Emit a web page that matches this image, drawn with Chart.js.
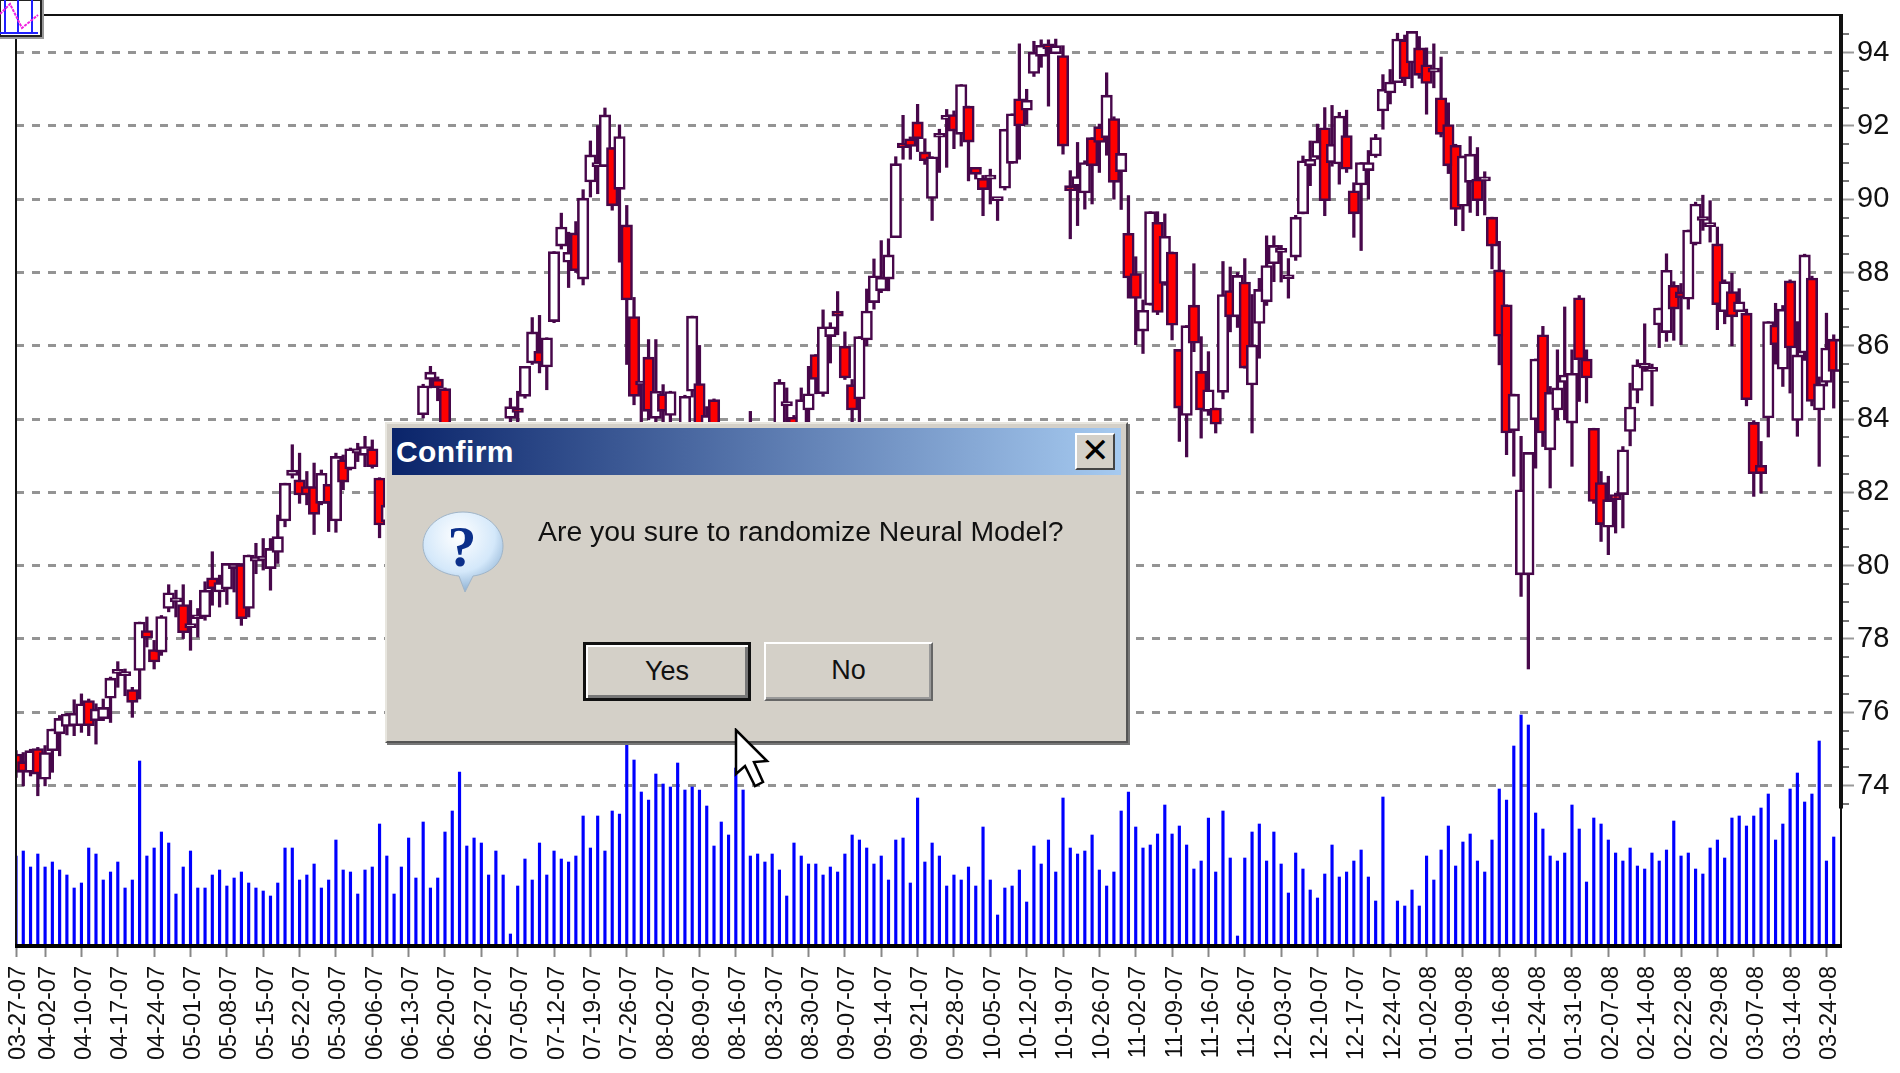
<!DOCTYPE html>
<html>
<head>
<meta charset="utf-8">
<title>Confirm</title>
<script src="https://cdn.jsdelivr.net/npm/chart.js@4"></script>
<style>
html, body { margin: 0; padding: 0; background: #fff; overflow: hidden; }
#wrap { position: relative; width: 1900px; height: 1073px; font-family: "Liberation Sans", sans-serif; }
canvas { position: absolute; left: 0; top: 0; filter: blur(0.5px); }
#icon { position: absolute; left: 0; top: 0; }
#dialog { position: absolute; left: 385px; top: 422px; width: 743px; height: 321px; box-sizing: border-box; background: #d4d0c8;
  border: 2px solid; border-color: #e8e6df #555 #555 #e8e6df; box-shadow: 2px 2px 0 #777; filter: blur(0.4px); }
#title { position: absolute; left: 5px; top: 4px; right: 5px; height: 47px; background: linear-gradient(90deg, #0a246a, #a6caf0); }
#title span { position: absolute; left: 4px; top: 7px; color: #fff; font-size: 30px; font-weight: bold; letter-spacing: 0.4px; }
#close { position: absolute; right: 11px; top: 9px; width: 40px; height: 37px; box-sizing: border-box; background: #d4d0c8;
  border: 2px solid; border-color: #fff #444 #444 #fff; font-size: 34px; line-height: 30px; text-align: center; color: #000; }
#msg { position: absolute; left: 151px; top: 91px; font-size: 28.4px; color: #111; white-space: nowrap; }
.btn { position: absolute; top: 218px; height: 59px; box-sizing: border-box; background: #d4d0c8; text-align: center; font-size: 27px; line-height: 53px; color: #111; }
#yes { left: 196px; width: 168px; border: 3px solid #111; box-shadow: inset 2px 2px 0 #fff, inset -3px -3px 0 #777; }
#no { left: 377px; width: 169px; border: 2px solid; border-color: #fff #666 #666 #fff; box-shadow: inset -2px -2px 0 #999; }
#cursor { position: absolute; left: 734px; top: 728px; }
</style>
</head>
<body>
<div id="wrap">
  <canvas id="chart" width="1900" height="1073"></canvas>
  <svg id="icon" width="46" height="40">
    <rect x="0" y="0" width="41" height="36" fill="#fff" stroke="#222" stroke-width="2"/>
    <path d="M5 0V33M18 0V33M32 0V33M0 33H38" stroke="#2020ff" stroke-width="2" fill="none"/>
    <path d="M0 14L10 4L22 28L38 15" stroke="#f020e0" stroke-width="2" fill="none" stroke-dasharray="3 1"/>
    <path d="M43 0V38H0" stroke="#999" stroke-width="2" fill="none"/>
  </svg>
  <div id="dialog">
    <div id="title"><span>Confirm</span></div>
    <div id="close">✕</div>
    <svg style="position:absolute;left:34px;top:86px" width="90" height="90">
      <defs>
        <radialGradient id="bub" cx="0.45" cy="0.3" r="0.75">
          <stop offset="0" stop-color="#ffffff"/><stop offset="0.6" stop-color="#d4e8fa"/><stop offset="1" stop-color="#7fa6cc"/>
        </radialGradient>
      </defs>
      <path d="M42 2C64 2 82 17 82 36C82 54 68 64 52 66L44 82L38 66C18 64 2 53 2 35C2 17 20 2 42 2Z" fill="url(#bub)" stroke="#9fb4c8"/>
      <text x="41" y="56" text-anchor="middle" font-family="Liberation Serif" font-weight="bold" font-size="58" fill="#0b2f8a">?</text>
    </svg>
    <div id="msg">Are you sure to randomize Neural Model?</div>
    <div class="btn" id="yes">Yes</div>
    <div class="btn" id="no">No</div>
  </div>
  <svg id="cursor" width="44" height="70">
    <path d="M2 2V46L11 38L21 58L29 54L20 34L33 33Z" fill="#fff" stroke="#000" stroke-width="2.5"/>
  </svg>
</div>
<script>
// axis labels, one every five sessions
const dateLabels = ['03-27-07','04-02-07','04-10-07','04-17-07','04-24-07','05-01-07','05-08-07','05-15-07','05-22-07','05-30-07',
  '06-06-07','06-13-07','06-20-07','06-27-07','07-05-07','07-12-07','07-19-07','07-26-07','08-02-07','08-09-07',
  '08-16-07','08-23-07','08-30-07','09-07-07','09-14-07','09-21-07','09-28-07','10-05-07','10-12-07','10-19-07',
  '10-26-07','11-02-07','11-09-07','11-16-07','11-26-07','12-03-07','12-10-07','12-17-07','12-24-07','01-02-08',
  '01-09-08','01-16-08','01-24-08','01-31-08','02-07-08','02-14-08','02-22-08','02-29-08','03-07-08','03-14-08','03-24-08'];
const priceMajor = [74,76,78,80,82,84,86,88,90,92,94];
const priceMinor = [73.5,74.5,75,75.5,76.5,77,77.5,78.5,79,79.5,80.5,81,81.5,82.5,83,83.5,84.5,85,85.5,86.5,87,87.5,88.5,89,89.5,90.5,91,91.5,92.5,93,93.5,94.5];

// candles (i51-55, i60-67, i91-104 sit behind the dialog, estimated)
const opens = [74.86,74.65,74.36,75.01,74.17,74.95,75.41,75.61,75.63,75.63,
  76.32,75.77,75.82,76.38,77.06,77.00,76.62,77.14,78.23,77.71,
  77.64,78.83,79.01,78.94,78.31,78.55,78.60,79.67,79.28,79.36,
  79.92,80.03,78.83,80.12,80.15,79.92,80.36,81.22,82.46,82.34,
  82.16,82.16,81.70,82.22,81.22,82.89,82.64,83.07,83.01,83.19,
  82.39,81.20,81.60,82.20,82.85,83.10,84.12,85.08,85.09,84.83,
  83.70,83.10,83.20,82.90,83.10,82.85,83.20,83.40,84.02,84.30,
  84.62,85.53,85.85,85.42,86.66,88.72,88.28,89.08,87.82,90.47,
  90.89,90.89,91.41,90.27,89.30,86.80,84.93,85.69,84.02,84.69,
  84.10,83.70,83.60,84.76,84.97,83.60,84.53,83.40,83.10,83.30,
  82.80,83.10,83.70,83.40,83.60,83.60,84.36,84.05,83.60,84.25,
  85.76,84.69,86.25,86.95,85.99,84.94,84.55,86.16,87.18,87.50,
  87.82,88.95,91.53,91.65,92.11,91.29,90.02,91.69,92.18,92.31,
  91.77,92.54,90.87,90.57,90.55,89.96,90.30,90.98,92.74,92.43,
  93.43,93.90,94.24,93.97,93.92,90.37,90.35,90.17,91.68,91.98,
  91.68,92.20,90.75,89.07,87.97,86.40,87.11,89.37,87.70,88.56,
  85.90,84.10,87.11,85.30,84.21,84.30,84.73,87.51,86.79,87.74,
  84.93,86.61,87.20,88.24,88.55,87.83,88.42,89.60,90.91,91.14,
  91.95,91.00,90.96,91.74,90.23,90.39,90.78,91.18,92.41,92.90,
  93.18,94.35,93.72,94.13,93.67,93.47,92.77,92.04,91.47,89.81,
  90.46,90.55,90.50,89.51,88.07,87.12,83.68,79.75,79.75,83.98,
  86.30,83.16,84.25,85.00,83.89,87.31,85.64,83.75,82.27,81.05,
  81.94,81.94,83.66,84.78,85.39,85.30,86.57,86.36,87.65,87.47,
  87.27,88.78,89.42,89.25,88.78,86.93,87.48,86.93,86.89,83.91,
  82.74,84.03,86.57,85.36,87.77,83.96,85.80,87.85,84.25,85.00,
  86.18,85.30];
const highs = [74.95,74.90,74.99,75.04,75.09,75.54,75.91,75.97,76.34,76.50,
  76.36,76.23,76.36,76.96,77.38,77.18,76.68,78.46,78.60,77.96,
  78.64,79.48,79.33,79.48,79.05,78.83,79.56,80.38,79.74,80.06,
  80.06,80.06,80.29,80.61,80.74,80.74,81.38,82.25,83.30,83.07,
  82.57,82.80,82.61,82.22,83.07,83.02,83.21,83.34,83.53,83.43,
  82.40,81.90,82.40,83.00,83.30,83.80,84.95,85.44,85.15,84.85,
  83.80,83.40,83.60,83.30,83.50,83.35,83.60,83.75,84.57,84.76,
  85.44,86.77,86.83,86.22,88.57,89.62,89.10,89.39,90.26,91.59,
  92.01,92.49,91.41,92.03,89.83,87.32,85.00,86.17,86.17,84.94,
  84.76,83.90,84.65,86.81,86.01,84.34,84.55,83.70,83.50,83.60,
  83.30,84.21,83.85,83.75,83.85,85.08,84.85,84.10,84.85,85.44,
  85.76,86.98,86.63,87.48,86.38,85.08,86.25,87.55,88.37,88.87,
  88.92,91.16,92.29,91.70,92.59,91.65,91.16,91.91,92.45,92.41,
  93.13,92.54,90.87,90.65,90.82,90.02,91.91,92.33,94.24,93.00,
  94.31,94.35,94.35,94.37,94.19,90.78,91.55,91.05,91.68,92.05,
  93.45,92.25,91.25,90.10,88.43,87.25,89.66,89.66,89.60,88.56,
  85.90,86.55,88.24,86.25,85.84,84.30,88.30,88.15,88.00,88.38,
  87.40,87.84,89.00,89.00,88.74,88.38,89.56,91.18,91.59,92.05,
  92.50,92.56,92.37,92.43,90.45,91.00,91.33,91.77,93.40,93.54,
  94.53,94.48,94.58,94.44,94.13,94.24,93.88,92.63,91.50,91.18,
  91.71,91.41,90.75,89.51,88.85,87.12,84.68,83.53,83.09,85.64,
  86.53,84.89,85.89,87.06,85.89,87.37,85.89,83.75,82.57,82.44,
  81.98,83.25,84.98,85.62,86.60,85.50,87.03,88.51,87.75,87.70,
  89.16,89.92,90.11,89.96,89.24,87.80,87.98,87.56,87.00,83.96,
  83.39,86.66,87.16,87.10,87.80,86.66,88.50,87.90,85.15,86.89,
  86.30,86.20];
const lows = [74.22,73.99,74.26,73.72,73.99,74.36,74.81,75.38,75.36,75.45,
  75.36,75.13,75.77,75.72,76.68,76.45,75.86,76.36,77.78,77.18,
  77.55,78.74,78.60,78.01,77.69,78.05,78.51,78.92,78.87,78.94,
  79.28,78.37,78.60,79.78,79.88,79.33,80.06,81.06,82.39,81.70,
  81.66,80.85,81.66,80.93,80.91,82.07,82.61,82.84,82.70,82.66,
  80.76,80.90,81.40,82.00,82.50,82.90,84.03,84.85,84.50,83.40,
  82.90,82.60,82.80,82.50,82.70,82.60,82.90,83.10,83.70,83.90,
  84.57,85.49,85.26,84.80,86.63,88.64,87.59,88.00,87.66,90.06,
  90.15,90.89,89.70,88.28,85.49,84.39,83.80,83.98,83.90,83.80,
  83.60,83.10,83.40,84.60,83.20,83.30,83.20,82.90,82.70,82.60,
  82.40,82.90,83.20,83.00,83.10,83.30,83.70,83.20,83.30,83.90,
  84.69,84.62,85.53,86.30,85.08,83.90,83.90,86.00,87.00,87.45,
  87.50,88.95,91.09,91.09,91.30,90.95,89.42,90.73,90.87,91.38,
  91.45,90.50,90.55,89.55,89.87,89.42,90.25,90.98,91.09,92.04,
  93.35,93.60,92.54,93.97,91.23,88.92,89.28,89.73,89.87,90.73,
  91.20,90.00,89.72,87.30,86.03,85.79,87.11,86.85,87.65,86.16,
  83.39,82.97,85.84,83.48,84.10,83.62,84.55,86.38,86.50,85.39,
  83.62,85.66,87.10,87.75,87.74,87.30,88.33,89.60,90.37,91.09,
  89.55,90.90,90.41,90.73,88.96,88.60,90.00,91.14,91.91,92.60,
  93.18,93.10,93.04,93.30,92.32,93.04,91.70,90.70,89.28,89.14,
  89.64,89.55,89.57,88.10,85.48,83.03,82.44,79.16,77.18,82.66,
  83.25,82.12,83.98,83.98,82.71,84.48,84.44,81.70,80.66,80.30,
  80.89,81.03,83.27,84.44,85.30,84.36,85.95,86.12,86.15,86.03,
  87.00,88.75,89.15,88.83,86.44,86.60,86.00,86.93,84.36,81.89,
  81.98,83.51,85.50,84.89,84.71,83.53,85.60,84.36,82.71,84.90,
  84.30,85.20];
const closes = [74.36,74.37,74.95,74.31,74.90,75.54,75.83,75.95,75.97,76.23,
  75.63,76.09,76.13,76.93,77.11,77.04,76.27,78.46,78.02,77.37,
  78.61,79.26,79.08,78.17,78.37,78.63,79.33,79.37,79.54,80.06,
  80.06,78.55,80.29,80.24,80.24,80.47,80.79,82.25,82.61,81.93,
  81.93,81.40,82.52,81.70,82.98,82.28,83.19,83.19,83.25,82.70,
  81.11,81.65,82.30,82.90,83.20,83.60,84.91,85.28,84.85,83.70,
  83.10,83.25,82.95,83.15,82.85,83.20,83.45,83.60,84.34,84.18,
  85.44,86.38,85.52,86.22,88.57,89.24,88.55,88.05,90.03,91.21,
  90.95,92.30,89.82,91.71,87.25,84.62,84.97,84.21,84.76,84.21,
  84.75,83.30,84.62,86.81,83.60,84.10,83.40,83.05,83.35,82.80,
  83.10,83.70,83.40,83.60,83.40,85.00,84.48,83.40,84.53,84.69,
  85.08,86.52,86.52,86.81,85.12,84.25,86.25,86.95,87.91,87.87,
  88.48,90.97,91.41,91.44,91.65,91.05,91.16,91.71,92.22,91.86,
  93.13,91.56,90.68,90.26,90.57,90.00,91.91,92.33,92.00,92.70,
  94.01,94.20,94.10,94.19,91.45,90.23,90.62,91.00,90.91,91.55,
  92.84,90.46,91.25,87.85,87.29,86.97,89.66,86.91,88.99,86.56,
  84.30,86.55,86.07,84.25,84.80,83.86,87.40,86.79,87.92,85.39,
  86.02,87.54,88.19,88.74,88.58,87.87,89.51,91.05,91.09,91.59,
  89.96,91.50,92.27,90.82,89.60,91.00,91.00,91.68,93.00,93.20,
  94.37,93.28,94.58,93.38,93.16,93.51,91.77,90.91,89.72,91.18,
  91.23,89.96,90.54,88.72,86.26,83.62,84.68,82.07,83.09,85.64,
  83.62,84.73,84.85,85.20,85.25,85.62,85.12,81.75,81.12,81.80,
  81.80,83.16,84.33,85.48,85.53,85.34,87.03,88.06,87.00,87.31,
  89.16,89.87,89.47,89.35,87.12,87.75,86.79,87.20,84.53,82.51,
  82.51,86.66,86.03,87.00,85.94,85.75,88.48,84.48,84.96,85.94,
  85.30,86.18];
const volumes = [90,95,79,92,79,84,76,71,58,63,
  98,92,66,74,84,58,66,185,90,98,
  114,103,52,79,95,58,58,71,76,60,
  68,74,63,58,55,50,63,98,98,66,
  71,82,58,66,106,76,74,52,76,79,
  122,90,52,79,108,68,124,58,68,114,
  135,174,100,108,103,71,95,71,12,60,
  87,66,103,71,95,87,84,90,130,98,
  130,95,135,132,205,186,154,146,172,162,
  159,183,156,159,156,140,100,124,111,178,
  156,90,92,84,92,76,50,103,90,82,
  82,71,79,74,92,111,106,98,82,90,
  66,106,108,63,148,84,103,90,60,71,
  66,79,60,119,66,31,58,60,76,44,
  100,82,106,74,148,98,92,95,111,76,
  60,74,135,154,119,98,101,112,141,112,
  120,101,77,85,128,74,135,88,10,88,
  114,122,85,114,82,53,93,77,56,48,
  72,101,69,74,85,96,69,45,149,2,
  45,40,56,40,90,66,96,120,80,104,
  112,85,74,106,157,146,200,231,221,133,
  117,90,85,93,141,117,64,128,122,106,
  93,85,98,80,77,93,85,96,125,90,
  93,77,72,98,106,88,128,130,120,130,
  138,152,106,122,157,173,144,152,205,85,
  109,0];

const tickIndex = dateLabels.map((d, i) => i === 0 ? 0 : 4 + (i - 1) * 5);
const purple = '#47074a';

// frame and small ticks of the price axis
const framePlugin = {
  id: 'frame',
  afterDatasetsDraw(chart) {
    const ctx = chart.ctx;
    const a = chart.chartArea;
    const y = chart.scales.y;
    ctx.save();
    ctx.strokeStyle = '#777';
    ctx.lineWidth = 2;
    priceMinor.forEach(v => {
      const py = Math.round(y.getPixelForValue(v));
      ctx.beginPath();
      ctx.moveTo(a.right, py);
      ctx.lineTo(a.right + 8, py);
      ctx.stroke();
    });
    ctx.strokeStyle = '#111';
    ctx.lineWidth = 2;
    ctx.beginPath();
    ctx.moveTo(a.left, a.top - 1);
    ctx.lineTo(a.right, a.top - 1);
    ctx.moveTo(a.left, a.top - 1);
    ctx.lineTo(a.left, a.bottom);
    ctx.moveTo(a.right, a.top - 1);
    ctx.lineTo(a.right, a.bottom);
    ctx.stroke();
    ctx.lineWidth = 4;
    ctx.beginPath();
    ctx.moveTo(a.right, a.top - 2);
    ctx.lineTo(a.right, y.getPixelForValue(73.37));
    ctx.stroke();
    ctx.strokeStyle = '#000';
    ctx.beginPath();
    ctx.moveTo(a.left - 1, a.bottom);
    ctx.lineTo(a.right + 1, a.bottom);
    ctx.stroke();
    ctx.restore();
  }
};

new Chart(document.getElementById('chart'), {
  type: 'bar',
  plugins: [framePlugin],
  data: {
    datasets: [
      {
        label: 'Body',
        grouped: false,
        yAxisID: 'y',
        data: opens.map((o, i) => ({ x: i, y: [o, closes[i]] })),
        backgroundColor: opens.map((o, i) => closes[i] < o ? '#ff0000' : '#ffffff'),
        borderColor: purple,
        borderWidth: 2.6,
        borderSkipped: false,
        barThickness: 11.5,
        minBarLength: 4
      },
      {
        label: 'Wick',
        grouped: false,
        yAxisID: 'y',
        data: highs.map((h, i) => ({ x: i, y: [lows[i], h] })),
        backgroundColor: purple,
        barThickness: 2.6
      },
      {
        label: 'Volume',
        grouped: false,
        yAxisID: 'yVol',
        data: volumes.map((v, i) => ({ x: i, y: v })),
        backgroundColor: '#0000ff',
        barThickness: 2.5
      }
    ]
  },
  options: {
    responsive: false,
    animation: false,
    layout: { padding: { left: 16, top: 16, right: 0, bottom: 0 } },
    plugins: { legend: { display: false }, tooltip: { enabled: false } },
    scales: {
      x: {
        type: 'linear',
        min: 0,
        max: 251,
        offset: false,
        afterBuildTicks: s => { s.ticks = tickIndex.map(v => ({ value: v })); },
        afterFit: s => { s.height = 127; s.paddingLeft = 0; s.paddingRight = 0; },
        grid: { drawOnChartArea: false, offset: false, tickLength: 11, tickWidth: 2, tickColor: '#888' },
        border: { display: false },
        ticks: {
          autoSkip: false,
          minRotation: 90,
          maxRotation: 90,
          padding: 9,
          labelOffset: 3,
          color: '#111',
          font: { family: 'Liberation Sans', size: 23.5 },
          callback: v => dateLabels[tickIndex.indexOf(v)] || ''
        }
      },
      y: {
        position: 'right',
        min: 69.62,
        max: 95,
        afterBuildTicks: s => { s.ticks = priceMajor.map(v => ({ value: v })); },
        afterFit: s => { s.width = 59; s.paddingTop = 0; s.paddingBottom = 0; },
        grid: { color: '#949494', lineWidth: 3, tickLength: 13, tickColor: '#999', tickWidth: 2 },
        border: { display: false, dash: [8, 8] },
        ticks: {
          padding: 3,
          color: '#111',
          font: { family: 'Liberation Sans', size: 29 },
          callback: v => String(v)
        }
      },
      yVol: {
        display: false,
        min: 0,
        max: 930
      }
    }
  }
});
</script>
</body>
</html>
